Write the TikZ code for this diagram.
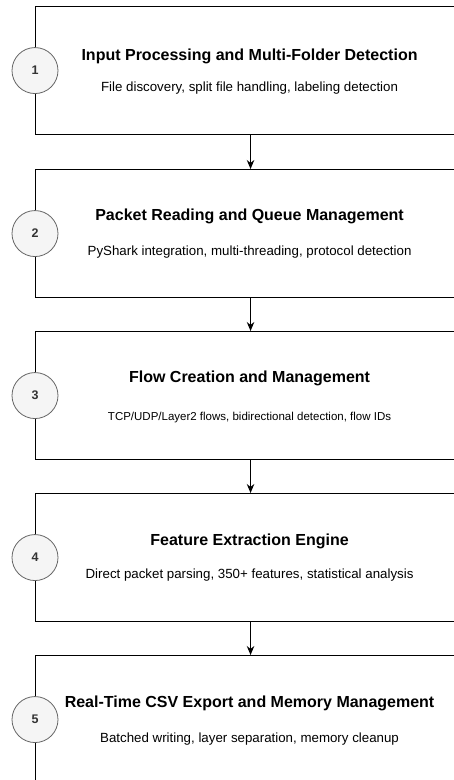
\documentclass[tikz,border=0pt]{standalone}
\usepackage{fontspec}
\setmainfont{Liberation Sans}
\usetikzlibrary{arrows.meta,positioning}
\definecolor{circfill}{HTML}{F5F5F5}
\definecolor{circline}{HTML}{666666}
\definecolor{numtext}{HTML}{333333}
\tikzset{
  stage/.style={draw=black, line width=1.1pt, rectangle, minimum width=430pt, minimum height=128pt, inner sep=0pt, anchor=north west},
  stagetitle/.style={font=\bfseries\fontsize{16}{19}\selectfont, inner sep=0pt},
  stagenote/.style={font=\fontsize{13.3}{16}\selectfont, inner sep=0pt},
  stagenotesmall/.style={font=\fontsize{11.5}{14}\selectfont, inner sep=0pt},
  badge/.style={circle, draw=circline, fill=circfill, line width=0.8pt, minimum size=46pt, inner sep=0pt, font=\bfseries\fontsize{12.5}{15}\selectfont, text=numtext},
  flow/.style={line width=1pt, -{Stealth[length=9pt,width=7.5pt]}}
}
\begin{document}
\begin{tikzpicture}[x=1pt,y=-1pt]
\useasboundingbox[fill=white] (0,0) rectangle (454,780);

% stage boxes
\node[stage] (s1) at (35,6) {};
\node[stage] (s2) at (35,169) {};
\node[stage] (s3) at (35,331) {};
\node[stage] (s4) at (35,493) {};
\node[stage] (s5) at (35,655) {};

% connectors between stages
\draw[flow] (s1.south) -- (s2.north);
\draw[flow] (s2.south) -- (s3.north);
\draw[flow] (s3.south) -- (s4.north);
\draw[flow] (s4.south) -- (s5.north);

% numbered badges on the left edge
\node[badge] (b1) at (s1.west) {1};
\node[badge] (b2) at (s2.west) {2};
\node[badge] (b3) at (s3.west) {3};
\node[badge] (b4) at (s4.west) {4};
\node[badge] (b5) at (s5.west) {5};

% titles and descriptions
\node[stagetitle] (t1) at ([xshift=-1pt,yshift=14pt]s1.center) {Input Processing and Multi-Folder Detection};
\node[stagenote]  (d1) at ([xshift=-1pt,yshift=-18pt]s1.center) {File discovery, split file handling, labeling detection};

\node[stagetitle] (t2) at ([xshift=-1pt,yshift=17pt]s2.center) {Packet Reading and Queue Management};
\node[stagenote]  (d2) at ([xshift=-1pt,yshift=-19pt]s2.center) {PyShark integration, multi-threading, protocol detection};

\node[stagetitle] (t3) at ([xshift=-1pt,yshift=17.5pt]s3.center) {Flow Creation and Management};
\node[stagenotesmall] (d3) at ([xshift=-1pt,yshift=-21.5pt]s3.center) {TCP/UDP/Layer2 flows, bidirectional detection, flow IDs};

\node[stagetitle] (t4) at ([xshift=-1pt,yshift=16pt]s4.center) {Feature Extraction Engine};
\node[stagenote]  (d4) at ([xshift=-1pt,yshift=-17.5pt]s4.center) {Direct packet parsing, 350+ features, statistical analysis};

\node[stagetitle] (t5) at ([xshift=-1pt,yshift=16.5pt]s5.center) {Real-Time CSV Export and Memory Management};
\node[stagenote]  (d5) at ([xshift=-1pt,yshift=-20pt]s5.center) {Batched writing, layer separation, memory cleanup};
\end{tikzpicture}
\end{document}
